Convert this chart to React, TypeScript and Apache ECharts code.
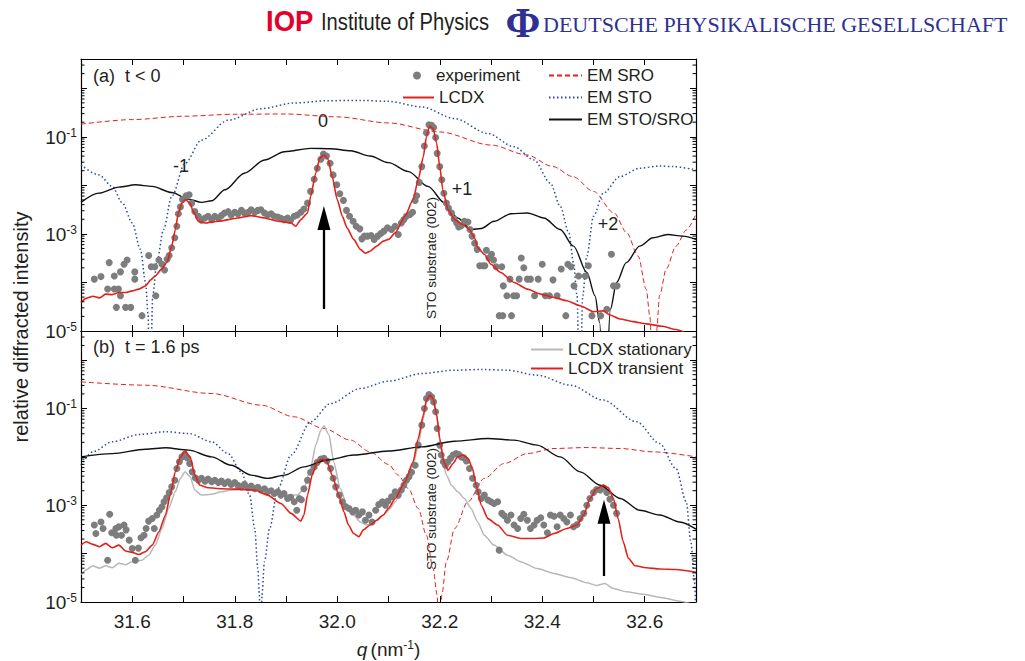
import React, { useEffect, useRef } from 'react';
import * as echarts from 'echarts';

// ---------- data (q in nm^-1, relative diffracted intensity) ----------
const xTickLabels = ['31.6', '31.8', '32.0', '32.2', '32.4', '32.6'];
const yTickExponents = [-1, -3, -5];
const minorMultipliers = [2, 3, 4, 5, 6, 7, 8, 9];
const minorDecades = [-5, -4, -3, -2, -1, 0];

// Panel (a) t < 0
const emSroA = [[31.5,0.182],[31.6,0.226],[31.7,0.265],[31.8,0.291],[31.9,0.295],[32.0,0.257],[32.1,0.193],[32.2,0.126],[32.3,0.0676],[32.37,0.0422],[32.42,0.0245],[32.46,0.0151],[32.5,0.0075],[32.54,0.0027],[32.565,1.05e-3],[32.587,3.5e-4],[32.603,7.2e-5],[32.61,2.0e-5],[32.618,1e-7],[32.623,1e-5],[32.629,5.4e-5],[32.642,1.9e-4],[32.661,5.6e-4],[32.681,1.2e-3],[32.7,2.6e-3]];
const emStoA = [[31.5,0.0263],[31.535,0.0164],[31.561,9.5e-3],[31.581,4.3e-3],[31.6,1.68e-3],[31.616,4.8e-4],[31.626,1.0e-4],[31.631,2.1e-5],[31.634,1e-7],[31.64,5.4e-5],[31.648,2.6e-4],[31.661,1.23e-3],[31.677,5.9e-3],[31.703,0.0284],[31.735,0.0855],[31.787,0.219],[31.852,0.38],[31.916,0.497],[31.981,0.553],[32.045,0.562],[32.1,0.537],[32.165,0.411],[32.229,0.237],[32.294,0.117],[32.345,0.0624],[32.384,0.0333],[32.416,0.0111],[32.435,3.7e-3],[32.452,1.05e-3],[32.461,2.56e-4],[32.468,5.3e-5],[32.473,1e-7],[32.479,5.3e-5],[32.487,3.5e-4],[32.5,2.3e-3],[32.519,6.9e-3],[32.552,0.0152],[32.59,0.0225],[32.629,0.0251],[32.655,0.0243],[32.7,0.0208]];
const emStoSroA = [[31.5,4.46e-3],[31.535,6.9e-3],[31.574,9.2e-3],[31.606,0.01026],[31.639,9.5e-3],[31.677,7.1e-3],[31.71,5.2e-3],[31.735,4.46e-3],[31.755,4.8e-3],[31.781,8.1e-3],[31.819,0.0178],[31.858,0.0333],[31.897,0.0493],[31.948,0.0577],[31.987,0.0568],[32.026,0.0516],[32.064,0.0402],[32.1,0.0294],[32.139,0.0192],[32.177,9.5e-3],[32.21,4.3e-3],[32.235,2.13e-3],[32.261,1.23e-3],[32.281,1.29e-3],[32.306,1.82e-3],[32.339,2.6e-3],[32.371,2.7e-3],[32.403,2.13e-3],[32.435,1.23e-3],[32.461,5.6e-4],[32.487,1.6e-4],[32.503,5.3e-5],[32.512,1.5e-5],[32.521,1e-7],[32.533,2.8e-5],[32.545,1.0e-4],[32.564,2.56e-4],[32.59,5.6e-4],[32.616,8.3e-4],[32.645,9.7e-4],[32.674,9.0e-4],[32.7,7.7e-4]];
const lcdxA = [[31.5,3.9e-5],[31.51,4.7e-5],[31.523,5.2e-5],[31.536,4.8e-5],[31.548,5.75e-5],[31.561,5.6e-5],[31.574,6.2e-5],[31.587,6.2e-5],[31.6,6.7e-5],[31.613,7.3e-5],[31.626,8.5e-5],[31.636,1.13e-4],[31.645,1.36e-4],[31.658,1.93e-4],[31.668,2.64e-4],[31.677,5.6e-4],[31.684,1.23e-3],[31.69,2.7e-3],[31.697,4.3e-3],[31.704,5.1e-3],[31.713,4.2e-3],[31.719,2.9e-3],[31.729,1.82e-3],[31.742,1.68e-3],[31.768,1.82e-3],[31.806,2.13e-3],[31.832,2.38e-3],[31.858,2.13e-3],[31.884,1.82e-3],[31.91,1.68e-3],[31.919,1.44e-3],[31.929,1.97e-3],[31.942,2.7e-3],[31.948,5.9e-3],[31.958,0.0178],[31.966,0.036],[31.974,0.0422],[31.982,0.0344],[31.99,0.0152],[32.0,5.1e-3],[32.01,2.3e-3],[32.019,1.33e-3],[32.032,7.7e-4],[32.045,4.8e-4],[32.055,4.0e-4],[32.064,4.4e-4],[32.077,5.6e-4],[32.09,7.1e-4],[32.1,7.7e-4],[32.113,1.05e-3],[32.132,2.3e-3],[32.148,5.1e-3],[32.158,0.013],[32.168,0.039],[32.174,0.1],[32.18,0.165],[32.187,0.148],[32.194,0.073],[32.2,0.0243],[32.206,8.1e-3],[32.216,3.16e-3],[32.229,1.97e-3],[32.245,1.56e-3],[32.258,1.23e-3],[32.268,8.3e-4],[32.274,5.2e-4],[32.287,3.8e-4],[32.3,2.37e-4],[32.319,1.6e-4],[32.345,1.0e-4],[32.371,7.3e-5],[32.397,5.75e-5],[32.423,4.9e-5],[32.448,4.2e-5],[32.474,3.3e-5],[32.5,2.5e-5],[32.519,2.6e-5],[32.532,2.14e-5],[32.552,1.77e-5],[32.577,1.56e-5],[32.603,1.4e-5],[32.635,1.25e-5],[32.661,1.07e-5],[32.677,9.5e-6]];
const expA = [[31.526,1.17e-4],[31.539,1.32e-4],[31.555,2.56e-4],[31.552,7.3e-5],[31.565,7.3e-5],[31.565,1.36e-4],[31.569,3.07e-5],[31.573,7.3e-5],[31.577,5.3e-5],[31.577,1.65e-4],[31.584,2.37e-4],[31.59,2.9e-4],[31.587,3.07e-5],[31.597,3.07e-5],[31.605,1.65e-4],[31.605,1.17e-4],[31.619,2.07e-5],[31.632,3.6e-4],[31.637,2.1e-4],[31.644,2.1e-4],[31.646,5.3e-5],[31.652,2.9e-4],[31.658,2.37e-4],[31.663,1.81e-4],[31.668,3.0e-4],[31.672,3.6e-4],[31.677,5.2e-4],[31.683,8.3e-4],[31.687,1.44e-3],[31.69,2.6e-3],[31.694,3.6e-3],[31.698,5.1e-3],[31.705,6.1e-3],[31.711,6.4e-3],[31.716,4.3e-3],[31.722,2.9e-3],[31.729,2.3e-3],[31.735,1.91e-3],[31.742,2.13e-3],[31.748,2.3e-3],[31.755,1.97e-3],[31.761,2.3e-3],[31.768,2.1e-3],[31.774,2.38e-3],[31.78,2.7e-3],[31.787,2.87e-3],[31.793,2.45e-3],[31.8,2.78e-3],[31.806,2.6e-3],[31.813,3.05e-3],[31.819,2.7e-3],[31.826,2.78e-3],[31.832,3.15e-3],[31.839,2.78e-3],[31.845,3.05e-3],[31.851,3.15e-3],[31.858,2.7e-3],[31.864,2.45e-3],[31.871,2.6e-3],[31.877,2.3e-3],[31.884,2.23e-3],[31.89,2.1e-3],[31.896,1.97e-3],[31.903,2.13e-3],[31.909,1.91e-3],[31.916,2.3e-3],[31.922,2.45e-3],[31.929,2.78e-3],[31.935,3.26e-3],[31.942,4.3e-3],[31.948,7.5e-3],[31.955,0.0134],[31.961,0.0225],[31.968,0.0344],[31.973,0.0442],[31.979,0.0402],[31.986,0.0284],[31.992,0.0164],[31.999,0.0103],[32.005,6.7e-3],[32.012,4.9e-3],[32.018,3.05e-3],[32.024,2.3e-3],[32.031,1.82e-3],[32.037,1.44e-3],[32.044,1.27e-3],[32.048,7.9e-4],[32.053,9.0e-4],[32.059,9.0e-4],[32.066,9.3e-4],[32.072,7.7e-4],[32.079,9.0e-4],[32.085,1.02e-3],[32.091,1.14e-3],[32.098,1.33e-3],[32.106,1.23e-3],[32.113,1.44e-3],[32.119,9.7e-4],[32.125,1.68e-3],[32.13,1.97e-3],[32.135,2.3e-3],[32.142,2.5e-3],[32.147,2.78e-3],[32.152,4.9e-3],[32.155,6.1e-3],[32.16,0.0115],[32.165,0.0243],[32.17,0.0644],[32.174,0.121],[32.179,0.176],[32.184,0.173],[32.188,0.155],[32.192,0.097],[32.195,0.0456],[32.2,0.0243],[32.204,0.013],[32.208,6.9e-3],[32.213,4.3e-3],[32.217,3.4e-3],[32.223,2.7e-3],[32.228,2.03e-3],[32.233,1.68e-3],[32.237,1.39e-3],[32.242,1.47e-3],[32.248,1.82e-3],[32.255,1.75e-3],[32.259,1.23e-3],[32.263,9.0e-4],[32.268,6.4e-4],[32.273,4.8e-4],[32.278,2.2e-4],[32.284,2.2e-4],[32.288,2.2e-4],[32.291,4.6e-4],[32.296,3.2e-4],[32.301,3.8e-4],[32.305,2.9e-4],[32.31,2.1e-4],[32.316,2.07e-5],[32.323,2.07e-5],[32.321,2.1e-4],[32.324,8.5e-5],[32.331,5.3e-5],[32.337,1.17e-4],[32.34,2.07e-5],[32.344,5.3e-5],[32.35,5.3e-5],[32.355,1.17e-4],[32.359,3.2e-4],[32.364,2.0e-4],[32.371,1.17e-4],[32.377,1.17e-4],[32.385,5.3e-5],[32.392,1.17e-4],[32.4,2.37e-4],[32.406,5.3e-5],[32.414,5.3e-5],[32.421,1.13e-4],[32.429,5.3e-5],[32.437,1.9e-4],[32.446,2.07e-5],[32.45,2.37e-4],[32.456,2.1e-4],[32.462,8.5e-5],[32.471,1.36e-4],[32.484,1.36e-4],[32.49,2.2e-4],[32.497,2.07e-5],[32.514,2.07e-5],[32.526,2.8e-5],[32.535,3.8e-4],[32.539,8.5e-5],[32.546,8.5e-5]];

// Panel (b) t = 1.6 ps
const emSroB = [[31.5,0.356],[31.626,0.303],[31.755,0.204],[31.852,0.117],[31.916,0.0673],[31.974,0.0386],[32.026,0.0222],[32.064,0.0127],[32.1,7.0e-3],[32.119,4.2e-3],[32.139,2.2e-3],[32.158,8.6e-4],[32.174,2.4e-4],[32.187,4.9e-5],[32.195,1.4e-5],[32.2,1e-7],[32.204,1.4e-5],[32.213,6.8e-5],[32.229,3.3e-4],[32.255,1.18e-3],[32.287,3.6e-3],[32.326,7.3e-3],[32.371,0.0117],[32.423,0.0149],[32.487,0.0156],[32.552,0.0149],[32.616,0.0127],[32.7,0.01]];
const emStoB = [[31.5,6.7e-3],[31.523,0.0127],[31.561,0.0205],[31.613,0.029],[31.665,0.033],[31.71,0.0305],[31.755,0.0205],[31.787,0.0117],[31.813,4.9e-3],[31.829,1.62e-3],[31.839,3.3e-4],[31.845,4.9e-5],[31.848,1.4e-5],[31.851,1e-7],[31.853,1.4e-5],[31.858,6.8e-5],[31.868,3.3e-4],[31.884,2.2e-3],[31.91,0.0109],[31.948,0.053],[31.987,0.127],[32.045,0.259],[32.1,0.367],[32.165,0.528],[32.229,0.62],[32.281,0.64],[32.332,0.62],[32.39,0.489],[32.455,0.303],[32.519,0.149],[32.584,0.053],[32.629,0.0189],[32.661,5.75e-3],[32.681,1.18e-3],[32.69,1.76e-4],[32.697,2.6e-5],[32.7,5e-6]];
const emStoSroB = [[31.5,0.01],[31.561,0.0117],[31.626,0.0144],[31.665,0.0154],[31.71,0.0138],[31.755,0.01],[31.793,6.7e-3],[31.832,4.2e-3],[31.864,3.6e-3],[31.897,4.2e-3],[31.935,6.2e-3],[31.98,8.6e-3],[32.032,0.0109],[32.1,0.0132],[32.165,0.0161],[32.229,0.0211],[32.294,0.024],[32.345,0.0222],[32.39,0.0175],[32.435,0.01],[32.474,4.9e-3],[32.513,2.6e-3],[32.552,1.38e-3],[32.59,7.9e-4],[32.629,6.3e-4],[32.668,4.5e-4],[32.7,3.2e-4]];
const lcdxStatB = [[31.5,3.7e-5],[31.51,4.6e-5],[31.523,5.6e-5],[31.536,5.0e-5],[31.548,5.6e-5],[31.561,5.1e-5],[31.574,6.3e-5],[31.587,5.9e-5],[31.6,6.8e-5],[31.619,7.3e-5],[31.632,9.3e-5],[31.645,1.5e-4],[31.658,3.3e-4],[31.671,8.6e-4],[31.684,1.9e-3],[31.694,3.6e-3],[31.703,4.9e-3],[31.713,3.9e-3],[31.722,2.06e-3],[31.735,1.62e-3],[31.755,1.68e-3],[31.774,1.9e-3],[31.793,2.06e-3],[31.832,2.1e-3],[31.871,1.95e-3],[31.91,1.62e-3],[31.922,1.62e-3],[31.935,2.2e-3],[31.948,5.75e-3],[31.958,0.0175],[31.968,0.0357],[31.974,0.0438],[31.984,0.0282],[31.993,7.9e-3],[32.006,2.2e-3],[32.019,1.0e-3],[32.032,6.3e-4],[32.045,4.5e-4],[32.058,3.9e-4],[32.071,4.5e-4],[32.09,6.3e-4],[32.1,7.9e-4],[32.113,1.18e-3],[32.132,2.6e-3],[32.148,6.7e-3],[32.158,0.0175],[32.168,0.0622],[32.174,0.137],[32.18,0.189],[32.187,0.161],[32.194,0.0728],[32.2,0.024],[32.206,7.9e-3],[32.213,4.2e-3],[32.223,2.6e-3],[32.235,1.9e-3],[32.248,1.38e-3],[32.261,8.6e-4],[32.274,4.5e-4],[32.287,2.4e-4],[32.306,1.5e-4],[32.332,9.3e-5],[32.358,6.8e-5],[32.39,4.9e-5],[32.423,3.9e-5],[32.455,3.2e-5],[32.487,2.5e-5],[32.506,2.2e-5],[32.522,2.4e-5],[32.539,1.9e-5],[32.564,1.63e-5],[32.597,1.44e-5],[32.635,1.22e-5],[32.668,1.04e-5],[32.693,9e-6]];
const lcdxTransB = [[31.5,1.5e-4],[31.51,1.76e-4],[31.523,1.55e-4],[31.536,1.39e-4],[31.548,1.63e-4],[31.561,1.32e-4],[31.574,1.5e-4],[31.587,1.13e-4],[31.6,1.06e-4],[31.613,9.6e-5],[31.626,1.1e-4],[31.639,1.5e-4],[31.652,2.83e-4],[31.665,6.3e-4],[31.674,1.62e-3],[31.684,4.9e-3],[31.694,0.01],[31.703,0.0132],[31.713,0.01],[31.722,4.2e-3],[31.732,2.6e-3],[31.748,2.3e-3],[31.774,2.2e-3],[31.806,2.15e-3],[31.839,2.06e-3],[31.864,1.62e-3],[31.89,1.09e-3],[31.91,6.8e-4],[31.929,4.7e-4],[31.935,6.3e-4],[31.942,1.62e-3],[31.951,4.2e-3],[31.961,7.9e-3],[31.971,9.0e-3],[31.98,7.9e-3],[31.99,4.2e-3],[32.003,1.62e-3],[32.013,7.3e-4],[32.022,3.9e-4],[32.032,2.6e-4],[32.042,2.23e-4],[32.051,3.1e-4],[32.064,3.9e-4],[32.077,4.9e-4],[32.09,6.3e-4],[32.1,8.6e-4],[32.113,1.38e-3],[32.132,3.05e-3],[32.148,7.9e-3],[32.158,0.024],[32.168,0.0728],[32.174,0.149],[32.181,0.189],[32.187,0.161],[32.194,0.0728],[32.2,0.024],[32.208,7.9e-3],[32.216,5.3e-3],[32.226,7.3e-3],[32.235,0.01],[32.245,0.0109],[32.255,9.3e-3],[32.264,5.75e-3],[32.271,2.6e-3],[32.281,1.0e-3],[32.294,5.3e-4],[32.313,3.9e-4],[32.332,2.4e-4],[32.358,2.06e-4],[32.384,2.06e-4],[32.403,2.1e-4],[32.423,2.6e-4],[32.448,3.3e-4],[32.468,3.9e-4],[32.481,6.3e-4],[32.493,1.38e-3],[32.506,2.2e-3],[32.519,2.6e-3],[32.529,2.3e-3],[32.539,1.38e-3],[32.548,5.3e-4],[32.558,1.76e-4],[32.568,8.0e-5],[32.581,5.6e-5],[32.603,5.1e-5],[32.629,4.8e-5],[32.661,4.7e-5],[32.7,4.1e-5]];
const expB = [[31.526,3.9e-4],[31.529,2.6e-4],[31.539,4.5e-4],[31.543,3.3e-4],[31.552,7.3e-5],[31.556,6.5e-4],[31.56,2.7e-4],[31.568,3.3e-4],[31.569,2.4e-4],[31.574,3.6e-4],[31.579,2.4e-4],[31.584,3.9e-4],[31.588,3.1e-4],[31.594,1.9e-4],[31.6,1.28e-4],[31.606,7.3e-5],[31.612,1.3e-4],[31.617,2.13e-4],[31.623,2.4e-4],[31.627,3.3e-4],[31.632,4.7e-4],[31.639,5.3e-4],[31.643,3.3e-4],[31.648,6.3e-4],[31.653,7.9e-4],[31.658,9.3e-4],[31.662,1.18e-3],[31.667,1.43e-3],[31.672,1.84e-3],[31.677,2.4e-3],[31.683,3.3e-3],[31.687,5.75e-3],[31.692,7.9e-3],[31.697,0.01],[31.702,0.0112],[31.707,9.6e-3],[31.712,7.3e-3],[31.717,4.9e-3],[31.723,3.7e-3],[31.729,3.3e-3],[31.735,3.6e-3],[31.742,3.15e-3],[31.748,3.5e-3],[31.755,3.05e-3],[31.761,3.3e-3],[31.768,2.96e-3],[31.774,3.15e-3],[31.78,2.82e-3],[31.787,3.05e-3],[31.793,2.7e-3],[31.8,2.96e-3],[31.806,2.6e-3],[31.813,2.4e-3],[31.819,2.7e-3],[31.826,2.3e-3],[31.832,2.5e-3],[31.839,2.2e-3],[31.845,2.35e-3],[31.851,2.06e-3],[31.858,2.2e-3],[31.864,1.9e-3],[31.871,2.0e-3],[31.877,1.75e-3],[31.884,1.9e-3],[31.89,1.62e-3],[31.896,1.75e-3],[31.903,1.38e-3],[31.909,1.46e-3],[31.916,1.18e-3],[31.921,7.9e-4],[31.926,1.38e-3],[31.93,1.3e-3],[31.935,2.2e-3],[31.942,3.3e-3],[31.948,4.8e-3],[31.955,6.2e-3],[31.961,7.7e-3],[31.968,9.0e-3],[31.974,9.3e-3],[31.98,8.2e-3],[31.987,5.75e-3],[31.992,3.6e-3],[31.997,2.4e-3],[32.004,1.62e-3],[32.01,1.18e-3],[32.017,9.3e-4],[32.023,8.6e-4],[32.03,7.3e-4],[32.036,7.9e-4],[32.042,6.3e-4],[32.049,7.3e-4],[32.055,4.9e-4],[32.062,6.3e-4],[32.068,4.5e-4],[32.075,7.9e-4],[32.081,1.04e-3],[32.088,1.18e-3],[32.094,1.0e-3],[32.099,1.22e-3],[32.106,1.5e-3],[32.113,1.9e-3],[32.119,1.62e-3],[32.125,2.06e-3],[32.13,2.6e-3],[32.135,3.3e-3],[32.14,3.9e-3],[32.145,4.8e-3],[32.152,6.7e-3],[32.158,0.0175],[32.165,0.0453],[32.17,0.1],[32.174,0.161],[32.179,0.195],[32.184,0.174],[32.188,0.137],[32.192,0.0853],[32.195,0.0386],[32.2,0.0175],[32.203,0.0109],[32.207,7.9e-3],[32.211,6.7e-3],[32.216,7.9e-3],[32.221,9.3e-3],[32.226,0.0109],[32.232,0.0117],[32.237,0.0112],[32.242,0.01],[32.247,9.6e-3],[32.252,8.2e-3],[32.258,5.75e-3],[32.264,3.6e-3],[32.271,2.6e-3],[32.275,1.9e-3],[32.281,1.38e-3],[32.287,1.62e-3],[32.294,1.28e-3],[32.3,1.18e-3],[32.306,1.09e-3],[32.313,1.18e-3],[32.316,1.18e-4],[32.321,6.8e-4],[32.326,6.05e-4],[32.332,4.9e-4],[32.339,6.3e-4],[32.345,3.9e-4],[32.352,3.3e-4],[32.358,5.3e-4],[32.364,6.5e-4],[32.371,4.9e-4],[32.377,3.3e-4],[32.384,3.9e-4],[32.39,4.9e-4],[32.397,5.5e-4],[32.403,3.9e-4],[32.41,2.7e-4],[32.416,6.3e-4],[32.423,5.9e-4],[32.429,3.6e-4],[32.435,6.3e-4],[32.442,5.3e-4],[32.448,4.5e-4],[32.455,6.3e-4],[32.461,3.6e-4],[32.468,4.0e-4],[32.474,5.3e-4],[32.481,6.8e-4],[32.487,1.0e-3],[32.493,1.38e-3],[32.5,1.84e-3],[32.506,2.12e-3],[32.513,2.06e-3],[32.519,2.3e-3],[32.526,1.84e-3],[32.532,1.34e-3],[32.539,1.0e-3],[32.545,6.8e-4]];

// arrows (q, tail intensity, head intensity)
const arrowA = [31.974, 2.84e-5, 2.13e-3];
const arrowB = [32.5205, 3.44e-5, 7.35e-4];

// ---------- styling ----------
const FONT = '"Liberation Sans", Arial, Helvetica, sans-serif';
const SERIF = '"Liberation Serif", "Times New Roman", serif';
const TXT = '#231f20';
const RED = '#e3211c';
const BLUE = '#2b4ba0';
const BLACK = '#111111';
const DOT = '#7d7d7d';
const LGRAY = '#b8b8b8';

const Q_MIN = 31.5;
const Q_MAX = 32.7;
const I_MIN = 1e-5;
const I_MAX = 4;

function buildOption() {
  const minorTicks: number[][] = [];
  minorDecades.forEach((d) => {
    minorMultipliers.forEach((m) => {
      const v = m * Math.pow(10, d);
      if (v < I_MAX) minorTicks.push([31.6, v]);
    });
  });

  const xBase = (gridIndex: number, position: string, labels: boolean): any => ({
    type: 'value', gridIndex, position, min: Q_MIN, max: Q_MAX, interval: 0.1,
    axisLine: { show: true, onZero: false, lineStyle: { color: '#000', width: 1.2 } },
    axisTick: { show: true, inside: true, length: 6, lineStyle: { color: '#000', width: 1 } },
    splitLine: { show: false },
    axisLabel: labels
      ? {
          show: true, interval: 0, margin: 10, fontSize: 19, fontFamily: FONT, color: TXT,
          formatter: (v: number) => { const s = v.toFixed(1); return xTickLabels.includes(s) ? s : ''; },
        }
      : { show: false },
  });

  const yBase = (gridIndex: number, position: string, labels: boolean): any => ({
    type: 'log', logBase: 10, gridIndex, position, min: I_MIN, max: I_MAX,
    axisLine: { show: true, onZero: false, lineStyle: { color: '#000', width: 1.2 } },
    axisTick: { show: true, inside: true, length: 6, lineStyle: { color: '#000', width: 1 } },
    splitLine: { show: false },
    minorTick: { show: false },
    axisLabel: labels
      ? {
          show: true, margin: 4, fontFamily: FONT, color: TXT,
          formatter: (v: number) => {
            const l = Math.log10(v);
            const e = Math.round(l);
            if (Math.abs(l - e) > 1e-6) return '';
            if (!yTickExponents.includes(e)) return '';
            return `{b|10}{e|${e}}`;
          },
          rich: {
            b: { fontSize: 19, fontFamily: FONT, color: TXT, lineHeight: 20, verticalAlign: 'bottom' },
            e: { fontSize: 12, fontFamily: FONT, color: TXT, lineHeight: 12, verticalAlign: 'top' },
          },
        }
      : { show: false },
  });

  const lineS = (name: string, data: number[][], idx: number, color: string, width: number, type: any, smooth: number, z: number, extra: any = {}): any => ({
    name, type: 'line', data, xAxisIndex: idx, yAxisIndex: idx, symbol: 'none', showSymbol: false,
    smooth, smoothMonotone: 'x', clip: true, z,
    lineStyle: { color, width, type }, itemStyle: { color },
    emphasis: { disabled: true }, silent: true, ...extra,
  });

  const scatterS = (name: string, data: number[][], idx: number): any => ({
    name, type: 'scatter', data, xAxisIndex: idx, yAxisIndex: idx, symbol: 'circle', symbolSize: 7,
    itemStyle: { color: DOT, opacity: 1 }, clip: true, z: 3, emphasis: { disabled: true }, silent: true,
  });

  const arrowMark = (a: number[]): any => ({
    silent: true, symbol: ['none', 'triangle'], symbolSize: [13, 24], label: { show: false },
    lineStyle: { color: '#000', width: 2.3, type: 'solid' }, emphasis: { disabled: true },
    data: [[{ coord: [a[0], a[1]] }, { coord: [a[0], a[2]] }]],
  });

  const minorTickSeries = (idx: number): any => ({
    type: 'custom', xAxisIndex: idx, yAxisIndex: idx, data: minorTicks, silent: true, z: 10,
    encode: { x: 0, y: 1 },
    renderItem: (params: any, api: any) => {
      const cs = params.coordSys;
      const y = api.coord([api.value(0), api.value(1)])[1];
      return {
        type: 'group',
        children: [
          { type: 'line', shape: { x1: cs.x, y1: y, x2: cs.x + 3.5, y2: y }, style: { stroke: '#000', lineWidth: 1 } },
          { type: 'line', shape: { x1: cs.x + cs.width - 3.5, y1: y, x2: cs.x + cs.width, y2: y }, style: { stroke: '#000', lineWidth: 1 } },
        ],
      };
    },
  });

  const txt = (text: string, x: number, y: number, size: number, extra: any = {}, style: any = {}): any => ({
    type: 'text', x, y, silent: true, ...extra,
    style: { text, fontSize: size, fontFamily: FONT, fill: TXT, align: 'center', verticalAlign: 'middle', ...style },
  });

  const lineLegend = { itemStyle: { opacity: 0, borderWidth: 0 } };

  return {
    animation: false,
    backgroundColor: '#ffffff',
    textStyle: { fontFamily: FONT },
    grid: [
      { left: 81, top: 59, width: 615, height: 272 },
      { left: 81, top: 331, width: 615, height: 271 },
    ],
    xAxis: [
      xBase(0, 'bottom', false),
      {
        ...xBase(1, 'bottom', true),
        name: '{i|q} {n|(nm}{s|-1}{n|)}', nameLocation: 'middle', nameGap: 37,
        nameTextStyle: {
          fontFamily: FONT, color: TXT,
          rich: {
            i: { fontSize: 19, fontStyle: 'italic', fontFamily: FONT, color: TXT, lineHeight: 20, verticalAlign: 'bottom' },
            n: { fontSize: 19, fontFamily: FONT, color: TXT, lineHeight: 20, verticalAlign: 'bottom' },
            s: { fontSize: 12, fontFamily: FONT, color: TXT, lineHeight: 12, verticalAlign: 'top' },
          },
        },
      },
      xBase(0, 'top', false),
      xBase(1, 'top', false),
    ],
    yAxis: [
      yBase(0, 'left', true),
      yBase(1, 'left', true),
      yBase(0, 'right', false),
      yBase(1, 'right', false),
    ],
    legend: [
      {
        data: [{ name: 'experiment', icon: 'circle' }], left: 408, top: 62, itemWidth: 8, itemHeight: 8,
        selectedMode: false, textStyle: { fontSize: 17, fontFamily: FONT, color: TXT, padding: [0, 0, 0, 10] },
      },
      {
        data: ['LCDX'], left: 397, top: 84, itemWidth: 31, itemHeight: 14, ...lineLegend,
        selectedMode: false, textStyle: { fontSize: 17, fontFamily: FONT, color: TXT },
      },
      {
        data: ['EM SRO', 'EM STO', 'EM STO/SRO'], left: 543, top: 62, orient: 'vertical', itemGap: 5, ...lineLegend,
        itemWidth: 33, itemHeight: 14, selectedMode: false, textStyle: { fontSize: 17, fontFamily: FONT, color: TXT },
      },
      {
        data: ['LCDX stationary', 'LCDX transient'], left: 525, top: 336, orient: 'vertical', itemGap: 2, ...lineLegend,
        itemWidth: 32, itemHeight: 14, selectedMode: false, textStyle: { fontSize: 17, fontFamily: FONT, color: TXT },
      },
    ],
    series: [
      // panel (a)
      lineS('EM SRO', emSroA, 0, RED, 1, [5, 3], 0.3, 2),
      lineS('EM STO', emStoA, 0, BLUE, 1.5, [1.5, 2.5], 0.3, 2),
      lineS('EM STO/SRO', emStoSroA, 0, BLACK, 1.4, 'solid', 0.3, 2),
      scatterS('experiment', expA, 0),
      lineS('LCDX', lcdxA, 0, RED, 1.6, 'solid', 0.2, 4, { markLine: arrowMark(arrowA) }),
      minorTickSeries(0),
      // panel (b)
      lineS('EM SRO', emSroB, 1, RED, 1, [5, 3], 0.3, 2),
      lineS('EM STO', emStoB, 1, BLUE, 1.5, [1.5, 2.5], 0.3, 2),
      lineS('LCDX stationary', lcdxStatB, 1, LGRAY, 1.5, 'solid', 0.2, 2),
      scatterS('experiment', expB, 1),
      lineS('EM STO/SRO', emStoSroB, 1, BLACK, 1.4, 'solid', 0.3, 4),
      lineS('LCDX transient', lcdxTransB, 1, RED, 1.6, 'solid', 0.2, 4, { markLine: arrowMark(arrowB) }),
      minorTickSeries(1),
    ],
    graphic: [
      // header logos
      txt('IOP', 266, 21, 29, { scaleX: 0.95 }, { fontWeight: 'bold', fill: '#e4002b', align: 'left' }),
      txt('Institute of Physics', 321, 22, 24, { scaleX: 0.84 }, { align: 'left' }),
      txt('Φ', 523, 23, 42, {}, { fontFamily: SERIF, fontWeight: 'bold', fill: '#2e3192' }),
      txt('DEUTSCHE PHYSIKALISCHE GESELLSCHAFT', 543, 24, 22, {}, { fontFamily: SERIF, fill: '#2e3192', align: 'left' }),
      // panel labels
      txt('(a)  t < 0', 93, 76, 18, {}, { align: 'left' }),
      txt('(b)  t = 1.6 ps', 93, 347, 18, {}, { align: 'left' }),
      // diffraction order labels
      txt('0', 323, 121, 18),
      txt('-1', 181, 166, 18),
      txt('+1', 462, 189, 18),
      txt('+2', 608, 224, 18),
      // substrate labels
      txt('STO substrate (002)', 431, 258, 13.5, { rotation: Math.PI / 2 }),
      txt('STO substrate (002)', 431, 509, 13.5, { rotation: Math.PI / 2 }),
      // y axis title
      txt('relative diffracted intensity', 21, 327, 20, { rotation: Math.PI / 2 }),
    ],
  };
}

export default function App() {
  const ref = useRef<HTMLDivElement>(null);
  useEffect(() => {
    if (!ref.current) return;
    const chart = echarts.init(ref.current, null, { renderer: 'svg' });
    chart.setOption(buildOption() as any);
    return () => chart.dispose();
  }, []);
  return (
    <div
      ref={ref}
      style={{ position: 'fixed', left: 0, top: 0, width: 1025, height: 661, background: '#fff' }}
    />
  );
}
